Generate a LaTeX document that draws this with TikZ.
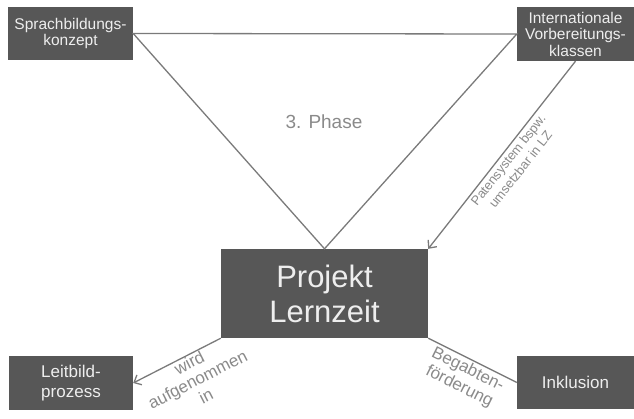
\documentclass[tikz,border=0pt]{standalone}
\usepackage{fontspec}
\setmainfont{Liberation Sans}
\usetikzlibrary{arrows.meta}

\definecolor{boxgray}{HTML}{575757}
\definecolor{boxtext}{HTML}{EEEEEE}
\definecolor{linegray}{HTML}{7A7A7A}
\definecolor{labelgray}{HTML}{8A8A8A}

\tikzset{
  box/.style = {fill = boxgray, text = boxtext,
    align = center, inner sep = 0pt},
  smallbox/.style = {box,
    font = \fontsize{15.5pt}{16.5pt}\selectfont},
  bigbox/.style = {box,
    font = \fontsize{17pt}{20pt}\selectfont},
  conn/.style = {draw = linegray, line width = 1.3pt},
  lbl/.style = {text = labelgray, align = center},
}

\begin{document}
\begin{tikzpicture}[x = 1pt, y = -1pt,
  >={Straight Barb[length = 6pt, width = 11pt]}]
  \useasboundingbox (0,0) rectangle (634,419);

  % boxes (pixel units, y downwards)
  \node[smallbox, minimum width = 125pt, minimum height = 53pt]
    (sprach) at (70.5,33.5) {Sprachbildungs-\\konzept};
  \node[smallbox, minimum width = 117pt, minimum height = 54pt]
    (intl) at (575.5,34) {Internationale\\Vorbereitungs-\\klassen};
  \node[box, minimum width = 207pt, minimum height = 89pt,
    font = \fontsize{31pt}{35pt}\selectfont]
    (proj) at (324.5,293.5) {Projekt\\Lernzeit};
  \node[bigbox, minimum width = 124pt, minimum height = 54pt]
    (leit) at (71,383) {Leitbild-\\prozess};
  \node[bigbox, minimum width = 117pt, minimum height = 53pt]
    (inkl) at (575.5,382.5) {Inklusion};

  % triangle
  \draw[conn] (sprach.east) -- (intl.west)
    -- (proj.north) -- cycle;
  \node[lbl, font = \fontsize{19pt}{22pt}\selectfont]
    (phase) at (324,122) {3. Phase};

  \draw[conn, <-] (proj.north east)
    -- node[lbl, sloped, below, inner sep = 2.5pt,
      font = \fontsize{13pt}{15.5pt}\selectfont]
      {Patensystem bspw.\\umsetzbar in LZ}
    (intl.south);

  \draw[conn, <-] (leit.east)
    -- node[lbl, sloped, below, pos = 0.6, inner sep = 0.5pt,
      font = \fontsize{17pt}{18.5pt}\selectfont]
      {wird\\aufgenommen\\in}
    (proj.south west);

  \draw[conn] (proj.south east)
    -- node[lbl, sloped, below, inner sep = 2pt,
      font = \fontsize{17pt}{19pt}\selectfont]
      {Begabten-\\förderung}
    (inkl.west);
\end{tikzpicture}
\end{document}
